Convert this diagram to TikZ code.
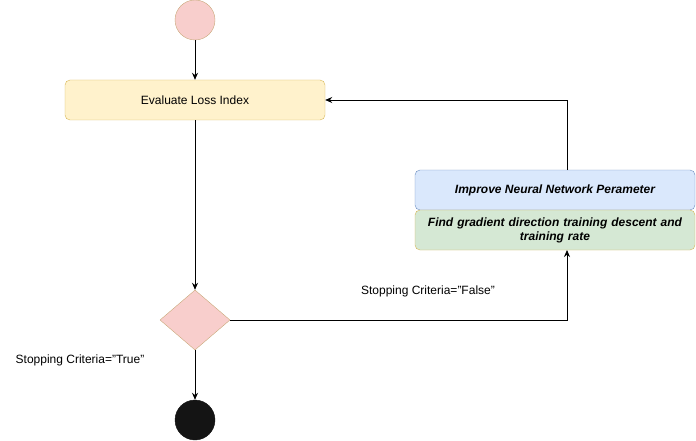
\documentclass[tikz,border=0pt]{standalone}
\usepackage{fontspec}
\setmainfont{Liberation Sans}
\usetikzlibrary{shapes.geometric,arrows.meta}
\definecolor{pinkf}{HTML}{F8CECC}
\definecolor{tanb}{HTML}{C9A97A}
\definecolor{yelf}{HTML}{FFF2CC}
\definecolor{yelb}{HTML}{D6B656}
\definecolor{bluef}{HTML}{DAE8FC}
\definecolor{blueb}{HTML}{6C8EBF}
\definecolor{greenf}{HTML}{D5E8D4}
\definecolor{darkf}{HTML}{141414}
\tikzset{
  txt/.style={font=\fontsize{12}{14}\selectfont},
  rbox/.style={draw, rounded corners=5pt, minimum height=40pt, inner sep=0pt, align=center, txt},
  bibox/.style={rbox, minimum width=280pt, font=\fontsize{12}{14}\selectfont\bfseries\itshape},
  flow/.style={draw=black, line width=0.8pt, -{Stealth[length=7pt,width=6pt]}},
}
\begin{document}
\begin{tikzpicture}[x=1pt,y=-1pt]
\useasboundingbox (0,0) rectangle (696,441);
\node[circle, draw=tanb, fill=pinkf, minimum size=40pt, inner sep=0pt] (start) at (195,20) {};
\node[rbox, draw=yelb, fill=yelf, minimum width=260pt] (eval) at (195,100) {Evaluate Loss Index};
\node[diamond, draw=tanb, fill=pinkf, minimum width=70pt, minimum height=60pt, inner sep=0pt, aspect=1.1667] (dec) at (195,320) {};
\node[circle, draw=darkf, fill=darkf, minimum size=40pt, inner sep=0pt] (stop) at (195,420) {};
\node[bibox, draw=blueb, fill=bluef] (impr) at (555,190) {Improve Neural Network Perameter};
\node[bibox, draw=yelb, fill=greenf, text width=276pt] (grad) at (555,230) {Find gradient direction training descent and\\training rate};
\coordinate (c1) at (567,100);
\coordinate (c2) at (567,320);
\draw[flow] (start) -- (eval);
\draw[flow] (eval) -- (dec);
\draw[flow] (dec) -- (stop);
\draw[flow] (567,170) -- (c1) -- (eval.east);
\draw[flow] (dec.east) -- (c2) -- (567,250);
\node[txt] (lf) at (428,291) {Stopping Criteria="False"};
\node[txt] (lt) at (80,360) {Stopping Criteria="True"};
\end{tikzpicture}
\end{document}
